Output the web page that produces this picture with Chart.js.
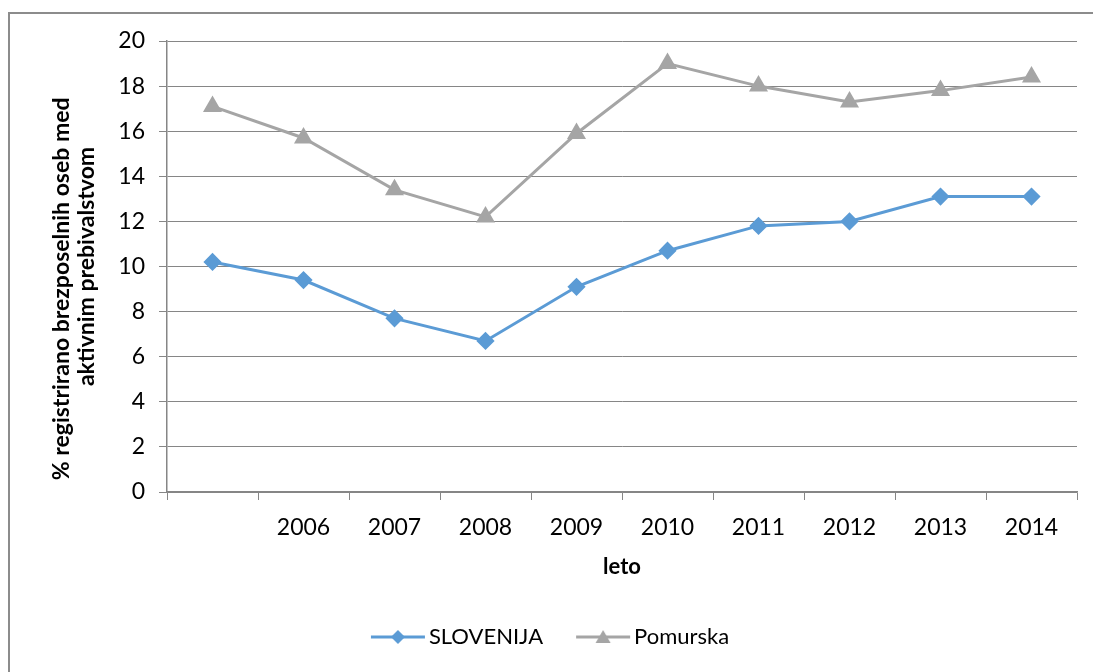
<!DOCTYPE html>
<html>
<head>
<meta charset="utf-8">
<script src="https://cdn.jsdelivr.net/npm/chart.js@4/dist/chart.umd.min.js"></script>
<style>
  html, body { margin: 0; padding: 0; background: #fff; }
  #wrap { position: relative; width: 1093px; height: 672px; overflow: hidden; }
  #frame { position: absolute; left: 8px; top: 12px; width: 1100px; height: 700px; border: 2px solid #8c8c8c; box-sizing: border-box; }
  #chart { position: absolute; left: 0; top: 0; }
</style>
</head>
<body>
<div id="wrap">
  <div id="frame"></div>
  <canvas id="chart" width="1093" height="672"></canvas>
</div>
<script>
// data
const years = ['', '2006', '2007', '2008', '2009', '2010', '2011', '2012', '2013', '2014'];
const slovenija = [10.2, 9.4, 7.7, 6.7, 9.1, 10.7, 11.8, 12.0, 13.1, 13.1];
const pomurska = [17.1, 15.7, 13.4, 12.2, 15.9, 19.0, 18.0, 17.3, 17.8, 18.4];
const yTicks = [0, 2, 4, 6, 8, 10, 12, 14, 16, 18, 20];

const BLUE = '#5b9bd5';
const GRAY = '#a5a5a5';
const AXIS = '#868686';
const FONT = 'Lato, "Open Sans", sans-serif';

// legend swatch: line with the marker in the middle
// (canvas is wider than the box so the line sits close to the text)
function swatch(color, style) {
  const c = document.createElement('canvas');
  c.width = 94;
  c.height = 18;
  const g = c.getContext('2d');
  const x0 = 35, x1 = 89, mx = 62;
  g.strokeStyle = color;
  g.lineWidth = 3;
  g.beginPath();
  g.moveTo(x0, 9);
  g.lineTo(x1, 9);
  g.stroke();
  g.fillStyle = color;
  g.beginPath();
  if (style === 'diamond') {
    g.moveTo(mx, 2); g.lineTo(mx + 7, 9); g.lineTo(mx, 16); g.lineTo(mx - 7, 9);
  } else {
    g.moveTo(mx, 2); g.lineTo(mx + 7.5, 15); g.lineTo(mx - 7.5, 15);
  }
  g.closePath();
  g.fill();
  return c;
}
const swatches = [swatch(BLUE, 'diamond'), swatch(GRAY, 'triangle')];

new Chart(document.getElementById('chart'), {
  type: 'line',
  data: {
    labels: years,
    datasets: [
      {
        label: 'SLOVENIJA',
        data: slovenija,
        borderColor: BLUE,
        backgroundColor: BLUE,
        borderWidth: 3,
        pointStyle: 'rectRot',
        pointRadius: 7,
        pointHoverRadius: 7,
        tension: 0
      },
      {
        label: 'Pomurska',
        data: pomurska,
        borderColor: GRAY,
        backgroundColor: GRAY,
        borderWidth: 3,
        pointStyle: 'triangle',
        pointRadius: 8,
        pointHoverRadius: 8,
        tension: 0
      }
    ]
  },
  options: {
    responsive: false,
    animation: false,
    layout: { padding: { top: 41, right: 16, left: 0, bottom: 14 } },
    plugins: {
      tooltip: { enabled: false },
      legend: {
        position: 'bottom',
        labels: {
          color: '#000',
          font: { family: FONT, size: 22 },
          usePointStyle: true,
          pointStyleWidth: 70,
          padding: 10,
          generateLabels(chart) {
            const items = Chart.defaults.plugins.legend.labels.generateLabels(chart);
            items.forEach((it, i) => { it.pointStyle = swatches[i]; });
            return items;
          }
        }
      }
    },
    scales: {
      x: {
        offset: true,
        afterFit(scale) { scale.height = 124; },
        border: { color: AXIS, width: 1.5 },
        grid: { offset: true, drawOnChartArea: false, drawTicks: true, tickLength: 8, color: AXIS },
        ticks: { color: '#000', font: { family: FONT, size: 23 }, padding: 14, maxRotation: 0, autoSkip: false },
        title: { display: true, text: 'leto', color: '#000', font: { family: FONT, size: 22, weight: 'bold', lineHeight: 1.15 }, padding: { top: 0, bottom: 36 } }
      },
      y: {
        min: 0,
        max: 20,
        afterFit(scale) { scale.width = 167; },
        afterBuildTicks(scale) { scale.ticks = yTicks.map(v => ({ value: v })); },
        border: { color: AXIS, width: 1.5 },
        grid: { color: AXIS, lineWidth: 1, tickLength: 8 },
        ticks: { color: '#000', font: { family: FONT, size: 23 }, padding: 14 },
        title: {
          display: true,
          text: ['% registrirano brezposelnih oseb med' + '        ', 'aktivnim prebivalstvom'],
          color: '#000',
          font: { family: FONT, size: 23, weight: 'bold', lineHeight: 1.08 },
          padding: { top: 49, bottom: 0 }
        }
      }
    }
  }
});
</script>
</body>
</html>
